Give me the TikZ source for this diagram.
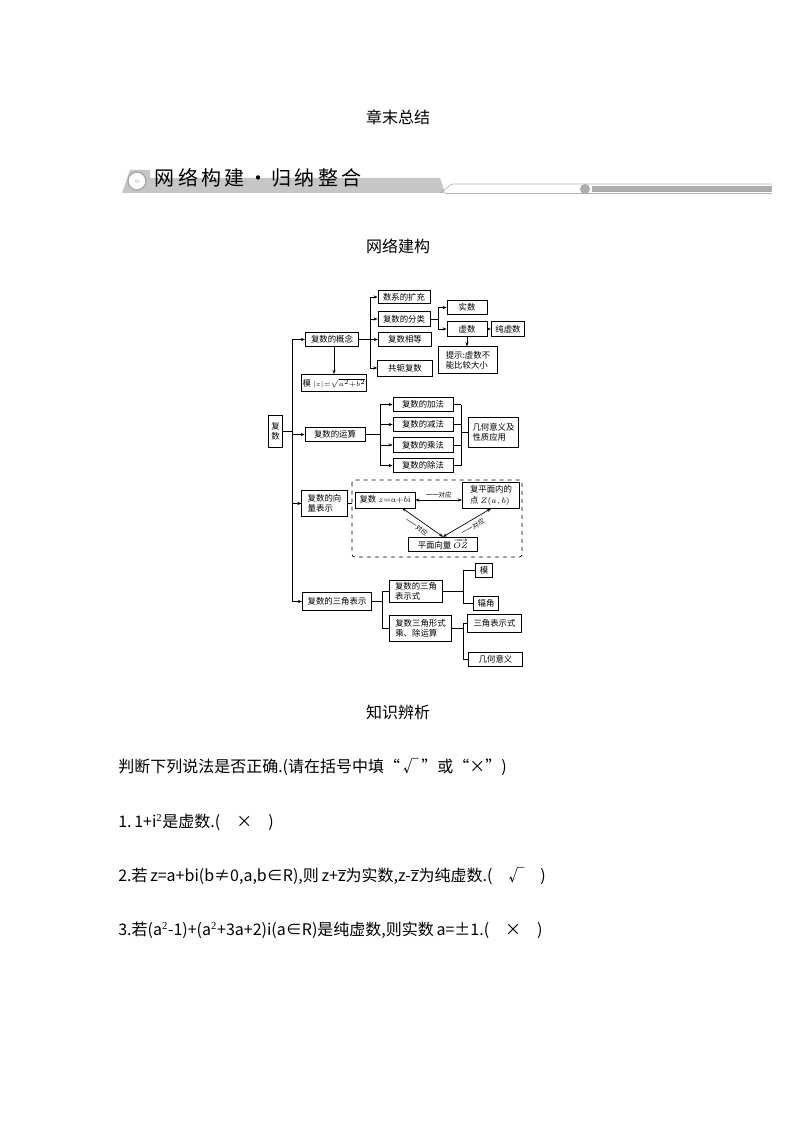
\documentclass[tikz,border=0pt]{standalone}
\usepackage{fontspec}
\usepackage{amsmath}
\setmainfont{Liberation Serif}
\newfontfamily\cjk{Noto Sans CJK SC}
\usetikzlibrary{arrows.meta}
\begin{document}
\begin{tikzpicture}[x=0.75pt,y=-0.75pt,
  bx/.style={draw,line width=0.6pt,inner sep=0.5pt,font=\cjk\fontsize{6.3}{7.6}\selectfont,align=left},
  ar/.style={-{Stealth[length=3pt,width=2.4pt]},line width=0.5pt},
  dar/.style={{Stealth[length=3pt,width=2.4pt]}-{Stealth[length=3pt,width=2.4pt]},line width=0.5pt},
  ln/.style={line width=0.5pt},
  lbl/.style={font=\cjk\fontsize{4.8}{5}\selectfont,inner sep=0.5pt}]
\useasboundingbox (0,0) rectangle (794,1123);
% titles
\node[font=\cjk\fontsize{12}{14}\selectfont] (t1) at (398,117) {章末总结};
\node[font=\cjk\fontsize{12}{14}\selectfont] (t2) at (398,246) {网络建构};
\node[font=\cjk\fontsize{12}{14}\selectfont] (t3) at (398,712) {知识辨析};
% banner
\fill[gray!45] (122,193) -- (130,170) -- (150,170) -- (150,178) -- (440,178) -- (445,193) -- cycle;
\fill[white] (137,181) circle (9);
\draw[gray!70,line width=1pt] (137,181) circle (9);
\node[font=\fontsize{5}{5}\selectfont,text=gray] (ic) at (137,182) {$\circ$};
\draw[gray!60,line width=0.5pt] (440,193) -- (452,184) -- (772,184);
\draw[gray!60,line width=0.5pt] (445,193) -- (772,193);
\fill[gray!65] (585,189) circle (5);
\fill[gray!65] (592,186) rectangle (772,192);
\node[font=\cjk\fontsize{15}{16}\selectfont,anchor=west,text=black] (ban) at (150,178) {网\,络\,构\,建\,·\,归\,纳\,整\,合};
% nodes
\node[bx,minimum width=11pt,minimum height=24pt,align=center] (root) at (275.5,431) {复\\数};
\node[bx,minimum width=40pt,minimum height=11pt] (gn) at (332,339.5) {复数的概念};
\node[bx,minimum width=48pt,minimum height=13pt] (mo) at (334,383) {模 \fontsize{5.5}{6}\selectfont$|z|{=}\sqrt{a^2{+}b^2}$};
\node[bx,minimum width=39pt,minimum height=10pt] (kc) at (404,297) {数系的扩充};
\node[bx,minimum width=39pt,minimum height=11pt] (fl) at (404,319) {复数的分类};
\node[bx,minimum width=40pt,minimum height=11pt] (xd) at (405,339.5) {复数相等};
\node[bx,minimum width=41pt,minimum height=12pt] (gy) at (405,368) {共轭复数};
\node[bx,minimum width=30pt,minimum height=11pt] (ss) at (467,307.5) {实数};
\node[bx,minimum width=30pt,minimum height=11pt] (xs) at (467,329) {虚数};
\node[bx,minimum width=25pt,minimum height=11pt] (cx) at (508,329) {纯虚数};
\node[bx,minimum width=44pt,minimum height=20pt] (ts) at (468,360) {提示:虚数不\\能比较大小};
\node[bx,minimum width=45pt,minimum height=11pt] (ys) at (335,434.5) {复数的运算};
\node[bx,minimum width=45pt,minimum height=11pt] (jf) at (423,404.5) {复数的加法};
\node[bx,minimum width=45pt,minimum height=11pt] (jian) at (423,424.5) {复数的减法};
\node[bx,minimum width=45pt,minimum height=11pt] (cf) at (423,445) {复数的乘法};
\node[bx,minimum width=45pt,minimum height=11pt] (cuf) at (423,465.5) {复数的除法};
\node[bx,minimum width=37pt,minimum height=22pt] (jh) at (493.5,432.5) {几何意义及\\性质应用};
\node[bx,minimum width=34pt,minimum height=20pt] (xl) at (324.5,503.5) {复数的向\\量表示};
\draw[dashed,line width=0.5pt,rounded corners=2pt] (352,480) rectangle (522,557);
\node[bx,minimum width=45pt,minimum height=12pt] (z) at (385,500) {复数 $z{=}a{+}b\mathrm{i}$};
\node[bx,minimum width=43pt,minimum height=19pt] (pm) at (491,495.5) {复平面内的\\点 $Z(a,b)$};
\node[bx,minimum width=52pt,minimum height=11pt] (oz) at (443,544.5) {平面向量 $\overrightarrow{OZ}$};
\node[bx,minimum width=52pt,minimum height=13pt] (sj) at (337,601.5) {复数的三角表示};
\node[bx,minimum width=40pt,minimum height=17pt] (sjs) at (416,591.5) {复数的三角\\表示式};
\node[bx,minimum width=13pt,minimum height=11pt] (m2) at (484,570.5) {模};
\node[bx,minimum width=19pt,minimum height=10pt] (fj) at (486,603.5) {辐角};
\node[bx,minimum width=47pt,minimum height=20pt] (cc) at (420.5,628.5) {复数三角形式\\乘、除运算};
\node[bx,minimum width=41pt,minimum height=13pt] (sjb) at (494.5,623.5) {三角表示式};
\node[bx,minimum width=41pt,minimum height=11pt] (jy) at (495.5,659.5) {几何意义};
% connectors
\coordinate (T0) at (292,339.5); \coordinate (T1) at (292,601.5);
\draw[ln] (root.east) -- (292,431);
\draw[ln] (T0) -- (T1);
\draw[ar] (T0) -- (gn.west);
\draw[ar] (292,434.5) -- (ys.west);
\draw[ar] (292,503.5) -- (xl.west);
\draw[ar] (T1) -- (sj.west);
\draw[ar] (gn.south -| mo.north) -- (mo.north);
\draw[ln] (gn.east) -- (370,339.5);
\draw[ln] (370,297) -- (370,368);
\foreach \n in {kc,fl,xd,gy} \draw[ar] (370,0 |- \n.west) -- (\n.west);
\draw[ln] (fl.east) -- (438,319);
\draw[ln] (438,307.5) -- (438,329);
\draw[ar] (438,307.5) -- (ss.west);
\draw[ar] (438,329) -- (xs.west);
\draw[ar] (xs.east) -- (cx.west);
\draw[ar] (xs.south) -- (ts.north -| xs.south);
\draw[ln] (ys.east) -- (380,434.5);
\draw[ln] (380,404.5) -- (380,465.5);
\foreach \n in {jf,jian,cf,cuf} {\draw[ar] (380,0 |- \n.west) -- (\n.west); \draw[ln] (\n.east) -- (461,0 |- \n.east);}
\draw[ln] (461,404.5) -- (461,465.5);
\draw[ln] (461,432.5) -- (jh.west);
\draw[ln] (xl.east) -- (352,503.5);
\draw[dar] (z.east) -- node[lbl,above=1pt] {一一对应} (pm.west |- z.east);
\coordinate (zs) at (402,508);
\draw[dar] (zs) -- node[lbl,sloped,below=2pt,pos=0.45] {一一对应} (oz.north);
\draw[dar] (oz.north) -- node[lbl,sloped,below=2pt,pos=0.55] {一一对应} (pm.south);
\draw[ln] (sj.east) -- (382,601.5);
\draw[ln] (382,591.5) -- (382,628.5);
\draw[ln] (382,591.5) -- (sjs.west);
\draw[ln] (382,628.5) -- (cc.west);
\draw[ln] (sjs.east) -- (463,591.5);
\draw[ln] (463,570.5) -- (463,603.5);
\draw[ln] (463,570.5) -- (m2.west);
\draw[ln] (463,603.5) -- (fj.west);
\draw[ln] (cc.east) -- (463,628.5);
\draw[ln] (463,623.5) -- (463,659.5);
\draw[ln] (463,623.5) -- (sjb.west);
\draw[ln] (463,659.5) -- (jy.west);
% text
\begin{scope}[every node/.style={anchor=west,inner sep=0pt,font=\cjk\fontsize{12}{14}\selectfont}]
\node (q0) at (118,767) {判断下列说法是否正确.(请在括号中填“\,√\,”或“×”)};
\node (q1) at (118,822) {1.\,1+i$^{\mathrm{2}}$是虚数.(\quad ×\quad )};
\node (q2) at (118,876) {2.若\,z=a+bi(b≠0,a,b∈R),则\,z+$\overline{\text{z}}$为实数,z-$\overline{\text{z}}$为纯虚数.(\quad √\quad )};
\node (q3) at (118,930) {3.若(a$^{\mathrm{2}}$-1)+(a$^{\mathrm{2}}$+3a+2)i(a∈R)是纯虚数,则实数\,a=±1.(\quad ×\quad )};
\end{scope}
\end{tikzpicture}
\end{document}
